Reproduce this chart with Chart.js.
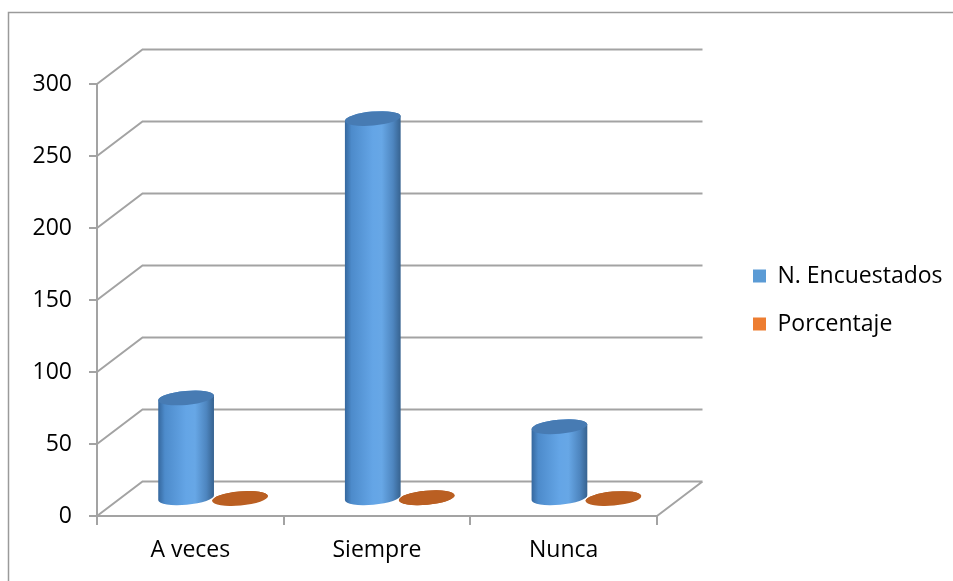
<!DOCTYPE html>
<html>
<head>
<meta charset="utf-8">
<script src="https://cdn.jsdelivr.net/npm/chart.js@4.4.0/dist/chart.umd.min.js"></script>
<style>
  html, body { margin: 0; padding: 0; background: #fff; }
  #wrap { width: 953px; height: 581px; }
</style>
</head>
<body>
<div id="wrap"><canvas id="myChart"></canvas></div>
<script>
const categories = ["A veces", "Siempre", "Nunca"];
const encuestados = [70, 264, 50];
const porcentaje = [0.18, 0.69, 0.13];
const yTicks = [0, 50, 100, 150, 200, 250, 300];

// 3d depth of the plot (front plane -> back wall)
const DX = 45.5, DY = -34.5;
const lineGrey = '#a3a3a3';
const font = { family: "'Open Sans', sans-serif", size: 23 };

function cylinder(ctx, cx, yTop, yBot, rx, ry, stops, topColor) {
  const rot = -0.09;
  const g = ctx.createLinearGradient(cx - rx, 0, cx + rx, 0);
  stops.forEach(([s, c]) => g.addColorStop(s, c));
  ctx.beginPath();
  ctx.ellipse(cx, yBot, rx, ry, rot, 0, Math.PI);
  ctx.ellipse(cx, yTop, rx, ry, rot, Math.PI, Math.PI * 2);
  ctx.closePath();
  ctx.fillStyle = g;
  ctx.fill();
  ctx.beginPath();
  ctx.ellipse(cx, yTop, rx, ry, rot, 0, Math.PI * 2);
  ctx.fillStyle = topColor;
  ctx.fill();
}

const frame3d = {
  id: 'frame3d',
  beforeDraw(chart) {
    const ctx = chart.ctx;
    ctx.save();
    ctx.strokeStyle = '#9a9a9a';
    ctx.lineWidth = 1.5;
    ctx.beginPath();
    ctx.moveTo(8.5, 600);
    ctx.lineTo(8.5, 12.5);
    ctx.lineTo(960, 12.5);
    ctx.stroke();
    ctx.restore();
  },
  beforeDatasetsDraw(chart) {
    const { ctx, chartArea: { left, right, bottom } } = chart;
    const ys = chart.scales.y;
    ctx.save();
    ctx.strokeStyle = lineGrey;
    ctx.lineWidth = 2;
    ctx.beginPath();
    yTicks.forEach(v => {
      const y = ys.getPixelForValue(v);
      ctx.moveTo(left, y);
      ctx.lineTo(left + DX, y + DY);
      ctx.lineTo(right + DX, y + DY);
    });
    ctx.moveTo(right, bottom);
    ctx.lineTo(right + DX, bottom + DY);
    ctx.stroke();

    chart.data.datasets.forEach((ds, i) => {
      const meta = chart.getDatasetMeta(i);
      meta.data.forEach(bar => {
        const rx = bar.width / 2 + 1;
        cylinder(ctx, bar.x + DX / 2, bar.y + DY / 2, bar.base + DY / 2,
          rx, 7, ds.bodyStops, ds.topColor);
      });
    });
    ctx.restore();
    return false;
  }
};

new Chart(document.getElementById('myChart'), {
  type: 'bar',
  plugins: [frame3d],
  data: {
    labels: categories,
    datasets: [
      {
        label: 'N. Encuestados',
        data: encuestados,
        backgroundColor: '#5b9bd5',
        bodyStops: [[0, '#35679d'], [0.12, '#4d8bcb'], [0.5, '#64a5e6'], [0.66, '#67a7e6'], [0.86, '#4e86c0'], [1, '#36628f']],
        topColor: '#477bb3'
      },
      {
        label: 'Porcentaje',
        data: porcentaje,
        backgroundColor: '#ed7d31',
        bodyStops: [[0, '#b3571b'], [1, '#b3571b']],
        topColor: '#ba5f22'
      }
    ]
  },
  options: {
    responsive: true,
    maintainAspectRatio: false,
    animation: false,
    categoryPercentage: 0.578,
    barPercentage: 1,
    layout: { padding: { left: 8, top: 84, right: 11, bottom: 0 } },
    plugins: {
      tooltip: { enabled: false },
      legend: {
        position: 'right',
        align: 'center',
        fullSize: false,
        maxWidth: 214,
        labels: {
          boxWidth: 13,
          boxHeight: 13,
          padding: 25,
          color: '#000',
          font: font
        }
      }
    },
    scales: {
      x: {
        grid: { offset: true, drawOnChartArea: false, tickLength: 9, color: lineGrey, lineWidth: 2 },
        border: { color: lineGrey, width: 2 },
        ticks: { padding: 12, color: '#000', font: font },
        afterFit: s => { s.height = 65; }
      },
      y: {
        min: 0,
        max: 300,
        afterBuildTicks: s => { s.ticks = yTicks.map(v => ({ value: v })); },
        grid: { drawOnChartArea: false, tickLength: 8, color: lineGrey, lineWidth: 2 },
        border: { color: lineGrey, width: 2 },
        ticks: { padding: 17, color: '#000', font: font },
        afterFit: s => { s.width = 89; }
      },
      yR: {
        position: 'right',
        grid: { display: false },
        border: { display: false },
        ticks: { display: false },
        afterFit: s => { s.width = 71; }
      }
    }
  }
});
</script>
</body>
</html>
